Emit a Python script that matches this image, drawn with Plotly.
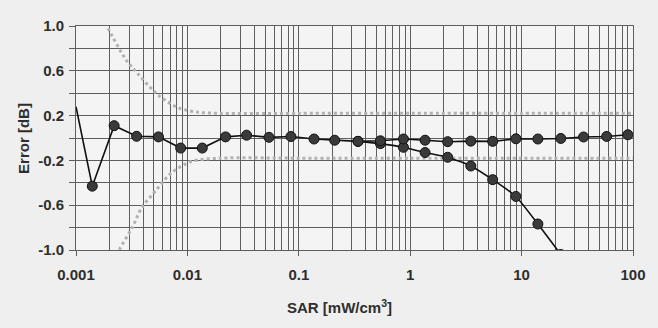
import plotly.graph_objects as go

# SAR values (mW/cm^3) at the measurement points
sar = [0.0014, 0.0022, 0.0035, 0.0055, 0.0087, 0.0136, 0.022, 0.034, 0.054, 0.085,
       0.137, 0.21, 0.34, 0.54, 0.87, 1.36, 2.17, 3.5, 5.5, 8.9, 14.0, 22.5, 36, 58, 90]
# Error of the corrected series (flat)
err_a = [-0.43, 0.11, 0.015, 0.01, -0.09, -0.09, 0.01, 0.025, 0.006, 0.013,
         -0.009, -0.02, -0.03, -0.025, -0.009, -0.02, -0.033, -0.028, -0.03, -0.007,
         -0.009, -0.004, 0.009, 0.014, 0.029]
# Start of the line at the left edge
lead_x = [0.001, 0.0014]
lead_y = [0.28, -0.43]
# Uncorrected series (diverges at high SAR)
sar_b = [0.34, 0.54, 0.87, 1.36, 2.17, 3.5, 5.5, 8.9, 14.0, 22.5]
err_b = [-0.03, -0.05, -0.083, -0.13, -0.172, -0.25, -0.372, -0.522, -0.768, -1.04]
# Uncertainty band (gray dotted)
band_up_x = [0.0018, 0.0019, 0.0028, 0.0032, 0.0055, 0.0083, 0.0125, 0.02, 0.1, 1, 10, 100]
band_up_y = [1.08, 1.0, 0.70, 0.63, 0.38, 0.27, 0.23, 0.22, 0.22, 0.22, 0.22, 0.22]
band_lo_x = [0.0024, 0.00245, 0.0032, 0.0039, 0.0053, 0.0072, 0.0108, 0.02, 0.1, 1, 10, 100]
band_lo_y = [-1.05, -1.0, -0.80, -0.62, -0.46, -0.31, -0.21, -0.18, -0.18, -0.18, -0.18, -0.18]

yticks = [-1.0, -0.6, -0.2, 0.2, 0.6, 1.0]
yticktext = ["-1.0", "-0.6", "-0.2", "0.2", "0.6", "1.0"]
yminor = [-0.8, -0.4, 0.0, 0.4, 0.8]
xticks = [0.001, 0.01, 0.1, 1, 10, 100]
xticktext = ["0.001", "0.01", "0.1", "1", "10", "100"]
xminor = [m * 10 ** k for k in range(-3, 2) for m in range(2, 10)]

grid_col = "#5e5e5e"
txt_col = "#2e2e2e"
font_fam = "Liberation Sans, Arial, sans-serif"

fig = go.Figure()
band_line = dict(color="#b2b2b2", width=3, dash="dot", shape="spline", smoothing=0.8)
fig.add_trace(go.Scatter(x=band_up_x, y=band_up_y, mode="lines", line=band_line,
                         hoverinfo="skip", showlegend=False))
fig.add_trace(go.Scatter(x=band_lo_x, y=band_lo_y, mode="lines", line=band_line,
                         hoverinfo="skip", showlegend=False))
fig.add_trace(go.Scatter(x=lead_x, y=lead_y, mode="lines",
                         line=dict(color="#111111", width=1.6), showlegend=False))
marker = dict(size=10, color="#3a3a3a", line=dict(color="#111111", width=1))
fig.add_trace(go.Scatter(x=sar_b, y=err_b, mode="lines+markers",
                         line=dict(color="#111111", width=1.6, shape="spline", smoothing=0.5),
                         marker=marker, cliponaxis=True, showlegend=False))
fig.add_trace(go.Scatter(x=sar, y=err_a, mode="lines+markers",
                         line=dict(color="#111111", width=1.6),
                         marker=marker, cliponaxis=True, showlegend=False))

axfont = dict(family=font_fam, size=15, color=txt_col, weight="bold")
fig.update_xaxes(type="log", range=[-3, 2], tickvals=xticks, ticktext=xticktext,
                 showgrid=True, gridcolor=grid_col, gridwidth=1,
                 showline=True, linecolor=grid_col, linewidth=1, mirror=True,
                 ticks="outside", ticklen=5, tickcolor=grid_col, tickfont=axfont,
                 ticklabelstandoff=6, zeroline=False,
                 minor=dict(tickvals=xminor, showgrid=True, gridcolor=grid_col,
                            gridwidth=1, ticks=""))
fig.update_yaxes(range=[-1, 1], tickvals=yticks, ticktext=yticktext,
                 showgrid=True, gridcolor=grid_col, gridwidth=1,
                 showline=True, linecolor=grid_col, linewidth=1, mirror=True,
                 ticks="outside", ticklen=6, tickcolor=grid_col, tickfont=axfont,
                 ticklabelstandoff=2, zeroline=False,
                 minor=dict(tickvals=yminor, showgrid=True, gridcolor=grid_col,
                            gridwidth=1, ticks="outside", ticklen=6, tickcolor=grid_col))

plot_w = 658 - 76 - 15
fig.add_annotation(text="SAR [mW/cm<sup>3</sup>]", xref="paper", yref="paper",
                   x=(344 - 76) / plot_w, y=(250 - 306) / 224, xanchor="center", yanchor="middle",
                   showarrow=False, font=dict(family=font_fam, size=15, color=txt_col, weight="bold"))
fig.add_annotation(text="Error [dB]", xref="paper", yref="paper",
                   x=(22 - 76) / plot_w, y=0.5, xanchor="center", yanchor="middle", textangle=-90,
                   showarrow=False, font=dict(family=font_fam, size=15, color=txt_col, weight="bold"))

fig.update_layout(width=658, height=328, margin=dict(l=76, r=15, t=26, b=78),
                  paper_bgcolor="#efefef", plot_bgcolor="#f4f4f4", showlegend=False)
fig.write_html("out.html")
